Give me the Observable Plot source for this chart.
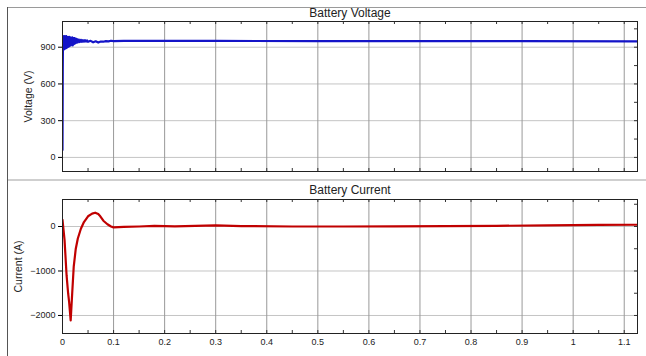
<!DOCTYPE html>
<html>
<head>
<meta charset="utf-8">
<script src="https://cdn.jsdelivr.net/npm/d3@7"></script>
<script src="https://cdn.jsdelivr.net/npm/@observablehq/plot@0.6"></script>
<style>
  html, body { margin: 0; padding: 0; background: #fff; }
  #fig { position: relative; width: 646px; height: 356px; background: #fff; overflow: hidden; font-family: "Liberation Sans", Arial, sans-serif; }
  #fig svg { position: absolute; left: 0; }
  .rule { position: absolute; }
</style>
</head>
<body>
<div id="fig"></div>
<script>
// ---- data ----
const voltT = [0, 0.0005, 0.001, 0.002, 0.003, 0.004, 0.005, 0.006, 0.007, 0.008, 0.009, 0.010, 0.011, 0.012, 0.013, 0.014, 0.015, 0.016, 0.017, 0.018, 0.019, 0.020, 0.021, 0.022, 0.023, 0.024, 0.025, 0.026, 0.027, 0.028, 0.029, 0.030, 0.032, 0.034, 0.036, 0.038, 0.040, 0.042, 0.044, 0.046, 0.048, 0.050, 0.055, 0.060, 0.065, 0.070, 0.075, 0.080, 0.085, 0.090, 0.095, 0.100, 0.12, 0.15, 0.2, 0.3, 0.5, 0.7, 0.9, 1.126];
const voltV = [60, 700, 985, 880, 990, 885, 985, 890, 990, 895, 985, 900, 980, 905, 985, 910, 980, 915, 975, 920, 980, 915, 975, 925, 975, 930, 970, 935, 968, 938, 965, 940, 962, 942, 960, 944, 958, 945, 957, 946, 956, 944, 952, 940, 948, 938, 946, 945, 950, 948, 953, 950, 952, 951, 952, 951, 950, 950, 949, 948];

const currT = [0, 0.004, 0.008, 0.011, 0.013, 0.016, 0.019, 0.022, 0.026, 0.030, 0.036, 0.042, 0.050, 0.058, 0.064, 0.070, 0.074, 0.080, 0.088, 0.095, 0.100, 0.12, 0.15, 0.18, 0.22, 0.26, 0.30, 0.35, 0.45, 0.55, 0.65, 0.75, 0.85, 0.95, 1.05, 1.126];
const currA = [150, -300, -1100, -1500, -1700, -2110, -1500, -900, -500, -270, -50, 100, 230, 290, 310, 280, 230, 130, 50, 0, -20, -10, 0, 15, 5, 15, 25, 10, 0, 0, 5, 10, 15, 25, 35, 40];

const xMajor = [0, 0.1, 0.2, 0.3, 0.4, 0.5, 0.6, 0.7, 0.8, 0.9, 1, 1.1];
const xMinor = [0, 0.05, 0.1, 0.15, 0.2, 0.25, 0.3, 0.35, 0.4, 0.45, 0.5, 0.55, 0.6, 0.65, 0.7, 0.75, 0.8, 0.85, 0.9, 0.95, 1, 1.05, 1.1];
const voltTicks = [0, 300, 600, 900];
const voltMinor = [0, 150, 300, 450, 600, 750, 900, 1050];
const currTicks = [-2000, -1000, 0];
const currMinor = [-2000, -1500, -1000, -500, 0, 500];

const voltRows = voltT.map((t, i) => ({t, v: voltV[i]}));
const currRows = currT.map((t, i) => ({t, a: currA[i]}));

const W = 646, ML = 62, MR = 9;
const PW = W - ML - MR;
const font = "Liberation Sans, Arial, sans-serif";

function panel({rows, yKey, yDomain, ticks, minor, label, labelOffset, title, titleDy, color, height, mt, mb, showX}) {
  const PH = height - mt - mb;
  const marks = [
    Plot.gridY(ticks, {stroke: "#c4c4c4", strokeOpacity: 1, strokeWidth: 1}),
    Plot.gridX(xMajor, {stroke: "#999", strokeOpacity: 1, strokeWidth: 1}),
    Plot.tickX(xMinor, {x: d => d, insetTop: PH - 3, stroke: "#333"}),
    Plot.tickX(xMinor, {x: d => d, insetBottom: PH - 3, stroke: "#333"}),
    Plot.tickY(minor, {y: d => d, insetLeft: PW - 3, stroke: "#333"}),
    Plot.line(rows, {x: "t", y: yKey, stroke: color, strokeWidth: 2.2, clip: true}),
    Plot.frame({stroke: "#222", strokeWidth: 1}),
    Plot.axisY({ticks, tickSize: 4, tickPadding: 3, fontSize: 9, fill: "#222", label: null, tickFormat: d3.format("d")}),
    Plot.text([label], {frameAnchor: "left", dx: -labelOffset, rotate: -90, textAnchor: "middle", lineAnchor: "middle", fontSize: 10.5, fill: "#222"}),
    Plot.text([title], {frameAnchor: "top", dy: titleDy, lineAnchor: "middle", fontSize: 12, fill: "#222"})
  ];
  if (showX) {
    marks.push(Plot.axisX({ticks: xMajor, tickSize: 0, tickPadding: 5, fontSize: 9, fill: "#222", label: null, tickFormat: d3.format("~g")}));
  } else {
    marks.push(Plot.axisX({ticks: [], label: null}));
  }
  return Plot.plot({
    width: W, height,
    marginLeft: ML, marginRight: MR, marginTop: mt, marginBottom: mb,
    style: {fontFamily: font, background: "transparent", overflow: "visible"},
    x: {domain: [0, 1.126]},
    y: {domain: yDomain},
    marks
  });
}

const topPanel = panel({rows: voltRows, yKey: "v", yDomain: [-115, 1110], ticks: voltTicks, minor: voltMinor, label: "Voltage (V)", labelOffset: 34, title: "Battery Voltage", titleDy: -8, color: "#1414c8", height: 180, mt: 21, mb: 9, showX: false});
const botPanel = panel({rows: currRows, yKey: "a", yDomain: [-2405, 607], ticks: currTicks, minor: currMinor, label: "Current (A)", labelOffset: 44, title: "Battery Current", titleDy: -9, color: "#c00000", height: 176, mt: 19, mb: 23, showX: true});

const fig = document.getElementById("fig");
topPanel.style.top = "0px";
botPanel.style.top = "180px";
fig.appendChild(topPanel);
fig.appendChild(botPanel);

function rule(css) { const d = document.createElement("div"); d.className = "rule"; Object.assign(d.style, css); fig.appendChild(d); }
rule({left: "7px", top: "7px", width: "639px", height: "1px", background: "#9a9a9a"});
rule({left: "7px", top: "7px", width: "1px", height: "349px", background: "#555"});
rule({left: "8px", top: "179px", width: "638px", height: "2px", background: "#cfcfcf"});
</script>
</body>
</html>
